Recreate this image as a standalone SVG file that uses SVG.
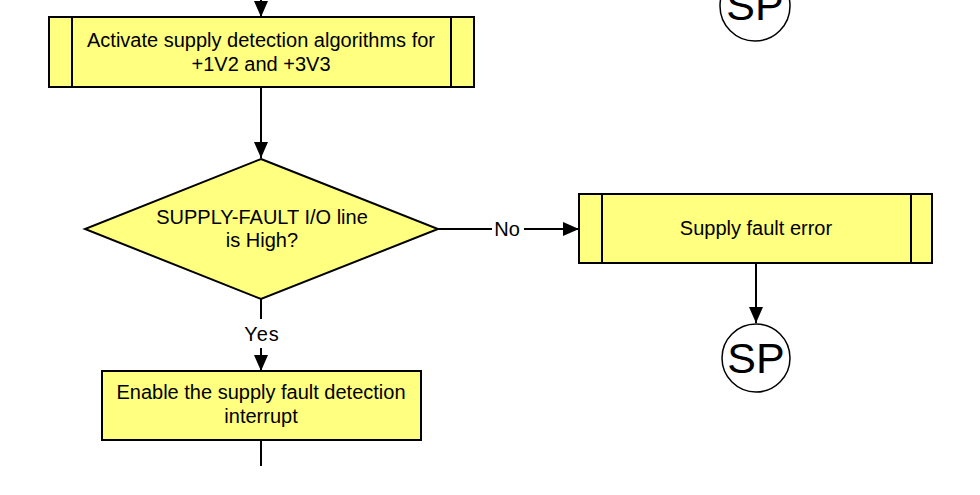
<svg xmlns="http://www.w3.org/2000/svg" width="980" height="495" viewBox="0 0 980 495">
<style>
.box{fill:#ffff80;stroke:#000;stroke-width:2}
.ln{stroke:#000;stroke-width:2;fill:none}
.t{font-family:"Liberation Sans",Arial,sans-serif;font-size:20px;fill:#000;text-anchor:middle}
.sp{font-family:"Liberation Sans",Arial,sans-serif;font-size:43px;fill:#000;text-anchor:middle}
.c{fill:#fff;stroke:#000;stroke-width:1.5}
</style>
<defs>
<marker id="a" markerWidth="16" markerHeight="16" refX="16" refY="8" orient="auto" markerUnits="userSpaceOnUse" viewBox="0 0 16 16">
<path d="M0,1 L16,8 L0,15 Z" fill="#000"/>
</marker>
</defs>
<g id="connectors">
<line class="ln" x1="261" y1="0" x2="261" y2="17" marker-end="url(#a)"/>
<line class="ln" x1="261" y1="87" x2="261" y2="158" marker-end="url(#a)"/>
<line class="ln" x1="438" y1="229" x2="492" y2="229"/>
<line class="ln" x1="524" y1="229" x2="579" y2="229" marker-end="url(#a)"/>
<text class="t" x="507" y="236">No</text>
<line class="ln" x1="261" y1="299" x2="261" y2="319"/>
<text class="t" x="262" y="341" style="letter-spacing:1px">Yes</text>
<line class="ln" x1="261" y1="348" x2="261" y2="371" marker-end="url(#a)"/>
<line class="ln" x1="261" y1="440" x2="261" y2="466"/>
<line class="ln" x1="756" y1="264" x2="756" y2="323" marker-end="url(#a)"/>
</g>
<g id="sp-top">
<circle class="c" cx="755" cy="6" r="35"/>
<text class="sp" x="755" y="20">SP</text>
</g>
<g id="activate">
<rect class="box" x="49" y="17" width="425" height="70"/>
<line class="ln" x1="72" y1="17" x2="72" y2="87"/>
<line class="ln" x1="451" y1="17" x2="451" y2="87"/>
<text class="t" x="261" y="47">Activate supply detection algorithms for</text>
<text class="t" x="261" y="71">+1V2 and +3V3</text>
</g>
<g id="decision">
<polygon class="box" points="261,159 438,229 261,299 85,229"/>
<text class="t" x="262" y="224">SUPPLY-FAULT I/O line</text>
<text class="t" x="262" y="247">is High?</text>
</g>
<g id="fault">
<rect class="box" x="579" y="194" width="353" height="69"/>
<line class="ln" x1="602" y1="194" x2="602" y2="263"/>
<line class="ln" x1="911" y1="194" x2="911" y2="263"/>
<text class="t" x="756" y="235">Supply fault error</text>
</g>
<g id="sp-bottom">
<circle class="c" cx="756" cy="358" r="34"/>
<text class="sp" x="756" y="373">SP</text>
</g>
<g id="enable">
<rect class="box" x="102" y="371" width="319" height="69"/>
<text class="t" x="261" y="399">Enable the supply fault detection</text>
<text class="t" x="261" y="423">interrupt</text>
</g>
</svg>
